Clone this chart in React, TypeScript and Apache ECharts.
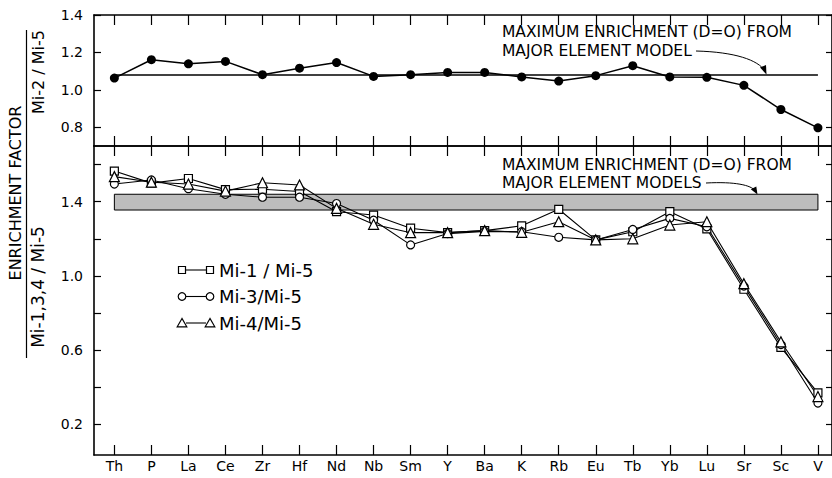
import React, { useEffect, useRef } from "react";
import * as echarts from "echarts";

const categories = ["Th", "P", "La", "Ce", "Zr", "Hf", "Nd", "Nb", "Sm", "Y", "Ba", "K", "Rb", "Eu", "Tb", "Yb", "Lu", "Sr", "Sc", "V"];
const mi2 = [1.063, 1.161, 1.139, 1.152, 1.081, 1.116, 1.146, 1.072, 1.081, 1.093, 1.093, 1.069, 1.047, 1.076, 1.129, 1.069, 1.067, 1.024, 0.895, 0.797];
const mi1 = [1.565, 1.5, 1.525, 1.465, 1.467, 1.455, 1.346, 1.328, 1.257, 1.233, 1.244, 1.27, 1.359, 1.194, 1.238, 1.346, 1.253, 0.928, 0.615, 0.37];
const mi3 = [1.495, 1.517, 1.47, 1.44, 1.424, 1.424, 1.39, 1.3, 1.167, 1.228, 1.24, 1.238, 1.208, 1.194, 1.25, 1.31, 1.265, 0.945, 0.63, 0.315];
const mi4 = [1.535, 1.505, 1.495, 1.457, 1.502, 1.49, 1.364, 1.278, 1.233, 1.233, 1.244, 1.235, 1.292, 1.194, 1.2, 1.274, 1.292, 0.958, 0.645, 0.35];
const refLineValue = 1.08;
const bandLow = 1.355;
const bandHigh = 1.44;
const topTicks = [0.8, 1.0, 1.2, 1.4];
const bottomTicks = [0.2, 0.4, 0.6, 0.8, 1.0, 1.2, 1.4, 1.6];
const bottomLabels = [0.2, 0.6, 1.0, 1.4];
const legendNames = ["Mi-1 / Mi-5", "Mi-3/Mi-5", "Mi-4/Mi-5"];

const FONT = '"DejaVu Sans", sans-serif';
const X_MIN = -0.55;
const X_MAX = 19.38;
const xIdx = categories.map((_, i) => i);

function xAxis(gridIndex: number, position: string, showLabels: boolean) {
  return {
    type: "value",
    gridIndex,
    position,
    min: X_MIN,
    max: X_MAX,
    axisLine: { show: true, onZero: false, lineStyle: { color: "#000", width: 1.6 } },
    axisTick: { show: true, inside: true, length: 10, customValues: xIdx, lineStyle: { color: "#000", width: 1.2 } },
    axisLabel: {
      show: showLabels,
      customValues: xIdx,
      formatter: (v: number) => categories[Math.round(v)] ?? "",
      color: "#000",
      fontSize: 14,
      fontFamily: FONT,
      margin: 4,
    },
    splitLine: { show: false },
  };
}

function yAxis(gridIndex: number, position: string, min: number, max: number, ticks: number[], labels: number[] | null) {
  return {
    type: "value",
    gridIndex,
    position,
    min,
    max,
    axisLine: { show: true, onZero: false, lineStyle: { color: "#000", width: 1.6 } },
    axisTick: { show: true, inside: true, length: position === "left" ? 7 : 6, customValues: ticks, lineStyle: { color: "#000", width: 1.2 } },
    axisLabel: {
      show: !!labels,
      customValues: labels || [],
      formatter: (v: number) => v.toFixed(1),
      color: "#000",
      fontSize: 14,
      fontFamily: FONT,
      margin: 11,
    },
    splitLine: { show: false },
  };
}

const pairs = (arr: number[]) => arr.map((v, i) => [i, v]);

function openSeries(name: string, data: number[], symbol: string, size: number, extra: any = {}) {
  return {
    name,
    type: "line",
    xAxisIndex: 2,
    yAxisIndex: 2,
    data: pairs(data),
    symbol,
    symbolSize: size,
    showSymbol: true,
    lineStyle: { color: "#000", width: 1.1 },
    itemStyle: { color: "#fff", borderColor: "#000", borderWidth: 1.2 },
    emphasis: { disabled: true },
    z: 3,
    ...extra,
  };
}

const legendY = [270, 296.5, 323];
const legendX1 = 182;
const legendX2 = 210;

function legendGraphics() {
  const out: any[] = [];
  const st = { stroke: "#000", fill: "#fff", lineWidth: 1.2 };
  legendY.forEach((y, k) => {
    out.push({ type: "line", shape: { x1: legendX1 + 4, y1: y, x2: legendX2 - 4, y2: y }, style: { stroke: "#000", lineWidth: 1.1 } });
    [legendX1, legendX2].forEach((x) => {
      if (k === 0) out.push({ type: "rect", shape: { x: x - 3.5, y: y - 3.5, width: 7, height: 7 }, style: st });
      else if (k === 1) out.push({ type: "circle", shape: { cx: x, cy: y, r: 3.8 }, style: st });
      else out.push({ type: "polygon", shape: { points: [[x, y - 4.5], [x - 4.8, y + 3.8], [x + 4.8, y + 3.8]] }, style: st });
    });
    out.push({ type: "text", x: 219, y, style: { text: legendNames[k], font: `18px ${FONT}`, fill: "#000", verticalAlign: "middle", align: "left" } });
  });
  return out;
}

function annotation(x: number, y1: number, y2: number, l2: string) {
  return [
    { type: "text", x, y: y1, style: { text: "MAXIMUM ENRICHMENT (D=O) FROM", font: `15.5px ${FONT}`, fill: "#000", verticalAlign: "middle", align: "left" } },
    { type: "text", x, y: y2, style: { text: l2, font: `15.5px ${FONT}`, fill: "#000", verticalAlign: "middle", align: "left" } },
  ];
}

const option: any = {
  animation: false,
  backgroundColor: "#fff",
  grid: [
    { left: 94, top: 15, width: 739, height: 131 },
    { left: 94, top: 146, width: 739, height: 309 },
  ],
  xAxis: [
    xAxis(0, "top", false),
    xAxis(0, "bottom", false),
    xAxis(1, "bottom", true),
    xAxis(1, "top", false),
  ],
  yAxis: [
    yAxis(0, "left", 0.7, 1.4, topTicks, topTicks),
    yAxis(0, "right", 0.7, 1.4, topTicks, null),
    yAxis(1, "left", 0.035, 1.7, bottomTicks, bottomLabels),
    yAxis(1, "right", 0.035, 1.7, bottomTicks, null),
  ],
  series: [
    {
      name: "Maximum enrichment (major element model)",
      type: "line",
      xAxisIndex: 0,
      yAxisIndex: 0,
      data: [[0, refLineValue], [categories.length - 1, refLineValue]],
      symbol: "none",
      lineStyle: { color: "#000", width: 1.5 },
      emphasis: { disabled: true },
      z: 2,
    },
    {
      name: "Mi-2/Mi-5",
      type: "line",
      xAxisIndex: 0,
      yAxisIndex: 0,
      data: pairs(mi2),
      symbol: "circle",
      symbolSize: 9,
      lineStyle: { color: "#000", width: 1.5 },
      itemStyle: { color: "#000" },
      emphasis: { disabled: true },
      z: 3,
    },
    openSeries("Mi-1/Mi-5", mi1, "rect", 8, {
      markArea: {
        silent: true,
        itemStyle: { color: "#bdbdbd", borderColor: "#000", borderWidth: 1 },
        data: [[{ xAxis: 0, yAxis: bandHigh }, { xAxis: categories.length - 1, yAxis: bandLow }]],
      },
    }),
    openSeries("Mi-3/Mi-5", mi3, "circle", 8),
    openSeries("Mi-4/Mi-5", mi4, "triangle", 10),
  ],
  graphic: [
    {
      type: "text", x: 15, y: 193, rotation: Math.PI / 2,
      style: { text: "ENRICHMENT FACTOR", font: `16px ${FONT}`, fill: "#000", align: "center", verticalAlign: "middle" },
    },
    { type: "line", shape: { x1: 26.5, y1: 30, x2: 26.5, y2: 358 }, style: { stroke: "#000", lineWidth: 1.2 } },
    {
      type: "text", x: 38, y: 72, rotation: Math.PI / 2,
      style: { text: "Mi-2 / Mi-5", font: `16px ${FONT}`, fill: "#000", align: "center", verticalAlign: "middle" },
    },
    {
      type: "text", x: 38, y: 287, rotation: Math.PI / 2,
      style: { text: "Mi-1,3,4 / Mi-5", font: `17px ${FONT}`, fill: "#000", align: "center", verticalAlign: "middle" },
    },
    ...annotation(502, 32, 50.5, "MAJOR ELEMENT MODEL"),
    ...annotation(502, 164.5, 183, "MAJOR ELEMENT MODELS"),
    {
      type: "bezierCurve",
      shape: { x1: 696, y1: 51, cpx1: 735, cpy1: 52, cpx2: 758, cpy2: 60, x2: 765, y2: 71 },
      style: { stroke: "#000", lineWidth: 1, fill: "none" },
    },
    { type: "polygon", shape: { points: [[766.5, 74.5], [760, 67.5], [766, 65]] }, style: { fill: "#000" } },
    {
      type: "bezierCurve",
      shape: { x1: 706, y1: 183, cpx1: 735, cpy1: 181.5, cpx2: 751, cpy2: 185, x2: 755.5, y2: 191 },
      style: { stroke: "#000", lineWidth: 1, fill: "none" },
    },
    { type: "polygon", shape: { points: [[757.5, 194.5], [750.8, 189.2], [756.3, 186.4]] }, style: { fill: "#000" } },
    ...legendGraphics(),
  ],
};

export default function App() {
  const ref = useRef<HTMLDivElement>(null);
  useEffect(() => {
    document.body.style.margin = "0";
    if (!ref.current) return;
    const chart = echarts.init(ref.current, null, { renderer: "svg" });
    chart.setOption(option);
    return () => chart.dispose();
  }, []);
  return <div ref={ref} style={{ width: 832, height: 478, position: "absolute", left: 0, top: 0 }} />;
}
